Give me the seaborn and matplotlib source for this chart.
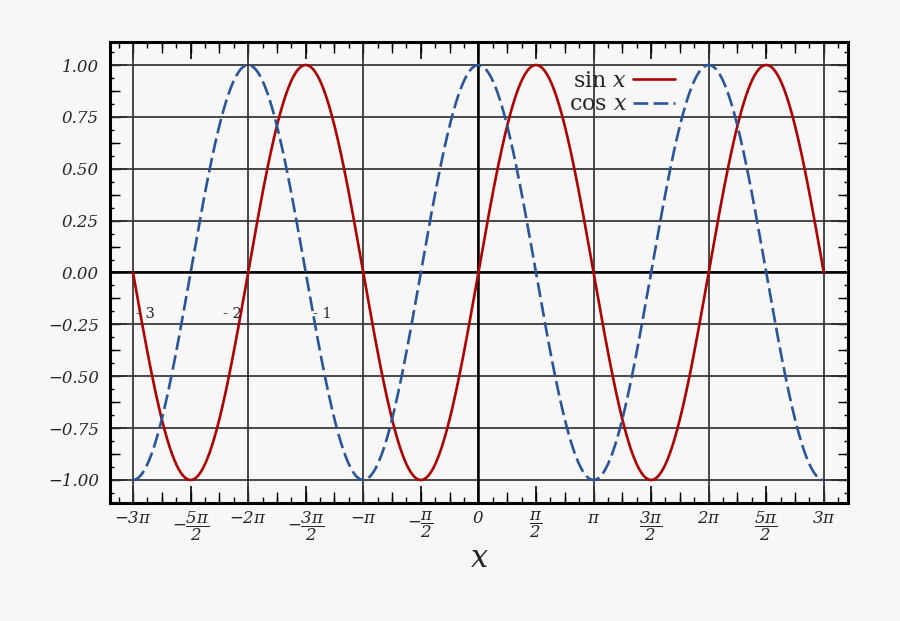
import numpy as np
import pandas as pd
import matplotlib
matplotlib.use("Agg")
import matplotlib.pyplot as plt
from matplotlib.ticker import MultipleLocator
import seaborn as sns

# ---- data ----
x_values = np.linspace(-3 * np.pi, 3 * np.pi, 1201)
sin_values = np.sin(x_values)
cos_values = np.cos(x_values)
series_names = [r"$\mathrm{sin}\ x$", r"$\mathrm{cos}\ x$"]
x_tick_labels = [r"$-\mathsf{3}\pi$", r"$-\dfrac{\mathsf{5}\pi}{\mathsf{2}}$", r"$-\mathsf{2}\pi$",
                 r"$-\dfrac{\mathsf{3}\pi}{\mathsf{2}}$", r"$-\pi$", r"$-\dfrac{\pi}{\mathsf{2}}$",
                 r"$\mathsf{0}$", r"$\dfrac{\pi}{\mathsf{2}}$", r"$\pi$",
                 r"$\dfrac{\mathsf{3}\pi}{\mathsf{2}}$", r"$\mathsf{2}\pi$",
                 r"$\dfrac{\mathsf{5}\pi}{\mathsf{2}}$", r"$\mathsf{3}\pi$"]
y_ticks = [-1.0, -0.75, -0.5, -0.25, 0.0, 0.25, 0.5, 0.75, 1.0]
y_tick_labels = ["\u22121.00", "\u22120.75", "\u22120.50", "\u22120.25", "0.00",
                 "0.25", "0.50", "0.75", "1.00"]
stray_labels = ["- 3", "- 2", "- 1"]
stray_x = [-9.08, -6.72, -4.25]

df = pd.DataFrame({
    "x": np.concatenate([x_values, x_values]),
    "y": np.concatenate([sin_values, cos_values]),
    "series": [series_names[0]] * len(x_values) + [series_names[1]] * len(x_values),
})

sns.set_style("white")
plt.rcParams["font.family"] = ["DejaVu Serif"]
plt.rcParams["mathtext.fontset"] = "custom"
plt.rcParams["mathtext.rm"] = "DejaVu Serif"
plt.rcParams["mathtext.it"] = "DejaVu Serif:italic"
plt.rcParams["mathtext.sf"] = "DejaVu Serif:italic"
plt.rcParams["mathtext.bf"] = "DejaVu Serif:bold"
plt.rcParams["mathtext.cal"] = "DejaVu Serif"
plt.rcParams["mathtext.tt"] = "DejaVu Sans Mono"

bg = "#f7f7f7"
fig = plt.figure(figsize=(9, 6.21), dpi=100, facecolor=bg)
ax = fig.add_axes([0.1222, 0.190, 0.820, 0.7424])
ax.set_facecolor(bg)

grid_col = "#333333"
for gx in np.arange(-3, 4) * np.pi:
    ax.axvline(gx, color=grid_col, lw=1.25, zorder=1)
for gy in y_ticks:
    ax.axhline(gy, color=grid_col, lw=1.25, zorder=1)
ax.axhline(0, color="black", lw=1.8, zorder=1.5)
ax.axvline(0, color="black", lw=1.8, zorder=1.5)

palette = {series_names[0]: "#aa0000", series_names[1]: "#2a5599"}
sns.lineplot(data=df, x="x", y="y", hue="series", style="series",
             palette=palette, dashes={series_names[0]: "", series_names[1]: (5.6, 2.0)},
             linewidth=1.9, ax=ax, zorder=3, legend=True)

ax.set_xlim(-3.2 * np.pi, 3.21 * np.pi)
ax.set_ylim(-1.111, 1.111)

ax.set_xticks(np.arange(-6, 7) * np.pi / 2)
ax.set_xticklabels(x_tick_labels)
ax.xaxis.set_minor_locator(MultipleLocator(np.pi / 8))
ax.set_yticks(y_ticks)
ax.set_yticklabels(y_tick_labels, fontstyle="italic")
ax.yaxis.set_minor_locator(MultipleLocator(1 / 16))

ax.tick_params(axis="x", which="major", direction="in", length=12, width=1.2,
               top=True, bottom=True, labelsize=12, pad=5, color="black")
ax.tick_params(axis="x", which="minor", direction="in", length=4, width=1.0,
               top=True, bottom=True, color="black")
ax.tick_params(axis="y", which="major", direction="in", length=12, width=1.2,
               left=True, right=True, labelsize=12, pad=8, color="black")
ax.tick_params(axis="y", which="minor", direction="in", length=3.2, width=1.0,
               left=True, right=True, color="black")

for loc in ["bottom", "top"]:
    sec = ax.secondary_xaxis(loc)
    sec.set_xticks(np.arange(-12, 13) * np.pi / 4)
    sec.tick_params(direction="in", length=8, width=1.0, labelbottom=False,
                    labeltop=False, color="black")
    for s in sec.spines.values():
        s.set_visible(False)
for loc in ["left", "right"]:
    sec = ax.secondary_yaxis(loc)
    sec.set_yticks(np.arange(-8, 9) / 8)
    sec.tick_params(direction="in", length=7, width=1.0, labelleft=False,
                    labelright=False, color="black")
    for s in sec.spines.values():
        s.set_visible(False)

for s in ax.spines.values():
    s.set_visible(True)
    s.set_color("black")
    s.set_linewidth(2.2)

ax.set_xlabel(r"$x$", fontsize=22, labelpad=0)
ax.set_ylabel("")

for lab, sx in zip(stray_labels, stray_x):
    ax.text(sx, -0.2, lab, fontsize=10.5, ha="center", va="center",
            fontfamily="DejaVu Serif", zorder=4)

leg = ax.legend(loc="upper right", bbox_to_anchor=(0.778, 0.958), frameon=False,
                markerfirst=False, fontsize=16, handlelength=1.9, handletextpad=0.25,
                labelspacing=0.05, borderaxespad=0)

fig.savefig("out.png", dpi=100, facecolor=bg)
